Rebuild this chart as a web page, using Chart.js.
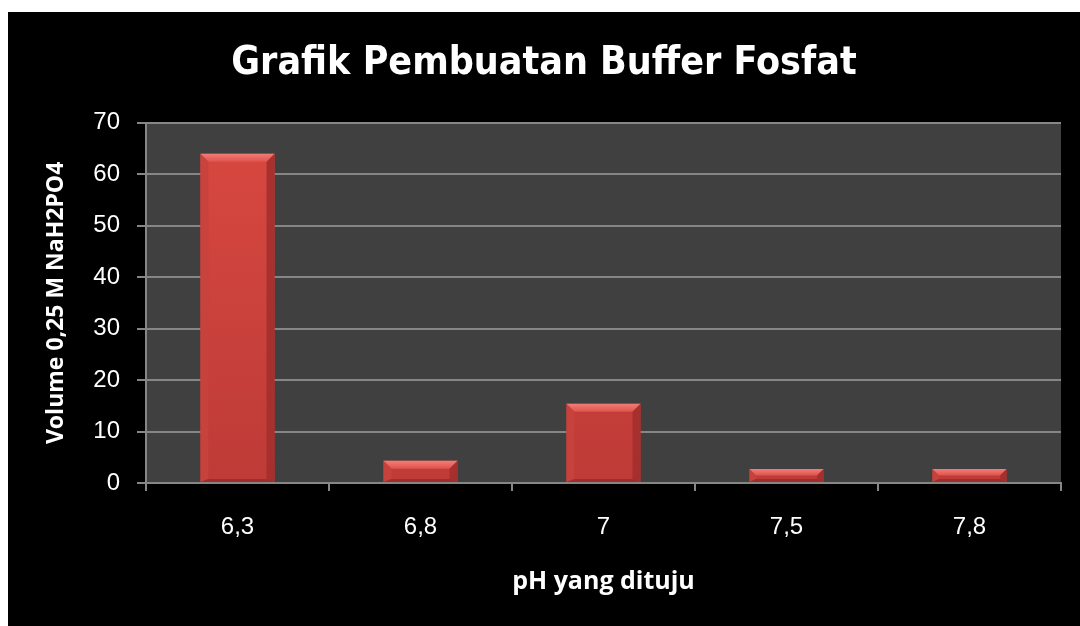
<!DOCTYPE html>
<html>
<head>
<meta charset="utf-8">
<script src="https://cdn.jsdelivr.net/npm/chart.js@4.4.1/dist/chart.umd.min.js"></script>
<style>
    html, body { margin: 0; padding: 0; background: #ffffff; }
    #wrap { position: absolute; left: 8px; top: 12px; width: 1072px; height: 614px; background: #000000; }
</style>
</head>
<body>
<div id="wrap"><canvas id="graphCanvas" width="1072" height="614"></canvas></div>
<script>
// dati del grafico
var kategori = ['6,3', '6,8', '7', '7,5', '7,8'];
var volume = [64, 4.3, 15.4, 2.7, 2.7];
var yMin = 0;
var yMax = 70;
var yStep = 10;

var condensed = "'DejaVu Sans Condensed', 'Liberation Sans', sans-serif";
var sans = "'Liberation Sans', Arial, sans-serif";
var judulAsse = "'Open Sans', 'Liberation Sans', sans-serif";
var abuGaris = '#868686';

// sfondo grigio dell'area del grafico
var plotBg = {
    id: 'plotBg',
    beforeDraw: function (chart) {
        var a = chart.chartArea;
        var ctx = chart.ctx;
        ctx.save();
        ctx.fillStyle = '#404040';
        ctx.fillRect(a.left, a.top, a.right - a.left, a.bottom - a.top);
        ctx.restore();
    }
};

// effetto smussato sulle barre
var bevel = {
    id: 'bevel',
    afterDatasetsDraw: function (chart) {
        var ctx = chart.ctx;
        chart.getDatasetMeta(0).data.forEach(function (bar) {
            var p = bar.getProps(['x', 'y', 'base', 'width'], true);
            var l = p.x - p.width / 2, r = p.x + p.width / 2;
            var t = Math.min(p.y, p.base), bt = Math.max(p.y, p.base);
            var b = Math.min(8, (bt - t) / 2, p.width / 2);
            var bb = Math.min(3, (bt - t) / 3);
            ctx.save();
            function poly(pts, col) {
                ctx.beginPath();
                ctx.moveTo(pts[0][0], pts[0][1]);
                for (var i = 1; i < pts.length; i++) ctx.lineTo(pts[i][0], pts[i][1]);
                ctx.closePath();
                ctx.fillStyle = col;
                ctx.fill();
            }
            var gTop = ctx.createLinearGradient(0, t, 0, t + b);
            gTop.addColorStop(0, '#f27d77');
            gTop.addColorStop(1, '#e0524d');
            poly([[l, t], [r, t], [r - b, t + b], [l + b, t + b]], gTop);
            poly([[l, t], [l + b, t + b], [l + b, bt - bb], [l, bt]], 'rgba(200,66,62,0.9)');
            poly([[r, t], [r, bt], [r - b, bt - bb], [r - b, t + b]], 'rgba(160,46,43,0.85)');
            poly([[l, bt], [l + b, bt - bb], [r - b, bt - bb], [r, bt]], 'rgba(150,42,40,0.8)');
            ctx.restore();
        });
    }
};

var graphTarget = document.getElementById('graphCanvas');

var barGraph = new Chart(graphTarget, {
    type: 'bar',
    data: {
        labels: kategori,
        datasets: [
            {
                label: 'Volume',
                data: volume,
                backgroundColor: function (c) {
                    var area = c.chart.chartArea;
                    if (!area) return '#cc4040';
                    var g = c.chart.ctx.createLinearGradient(0, area.top, 0, area.bottom);
                    g.addColorStop(0, '#d94841');
                    g.addColorStop(1, '#be3b37');
                    return g;
                },
                borderWidth: 0,
                categoryPercentage: 1,
                barPercentage: 0.405
            }
        ]
    },
    options: {
        responsive: false,
        animation: false,
        devicePixelRatio: 1,
        layout: { padding: 0 },
        plugins: {
            legend: { display: false },
            tooltip: { enabled: false },
            title: {
                display: true,
                text: 'Grafik Pembuatan Buffer Fosfat',
                color: '#ffffff',
                font: { family: condensed, size: 39, weight: 'bold', lineHeight: 1.2 },
                padding: { top: 28, bottom: 36 }
            }
        },
        scales: {
            x: {
                offset: true,
                grid: {
                    offset: true,
                    drawOnChartArea: false,
                    drawTicks: true,
                    tickLength: 8,
                    color: abuGaris,
                    lineWidth: 2
                },
                border: { display: true, color: abuGaris, width: 2 },
                ticks: {
                    color: '#ffffff',
                    padding: 22,
                    font: { family: sans, size: 24 }
                },
                title: {
                    display: true,
                    text: 'pH yang dituju',
                    color: '#ffffff',
                    font: { family: judulAsse, size: 25, weight: 'bold', lineHeight: 1.2 },
                    padding: { top: 0, bottom: 29 }
                },
                afterFit: function (scale) { scale.height = 143; }
            },
            y: {
                min: yMin,
                max: yMax,
                grid: {
                    color: abuGaris,
                    lineWidth: 2,
                    drawTicks: true,
                    tickLength: 9
                },
                border: { display: true, color: abuGaris, width: 2 },
                ticks: {
                    stepSize: yStep,
                    color: '#ffffff',
                    padding: 17,
                    font: { family: sans, size: 24 }
                },
                title: {
                    display: true,
                    text: 'Volume 0,25 M NaH2PO4',
                    color: '#ffffff',
                    font: { family: judulAsse, size: 23, weight: 'bold', lineHeight: 1.2 },
                    padding: { top: 35, bottom: 0 }
                },
                afterFit: function (scale) { scale.width = 138; }
            },
            // margine vuoto a destra
            kanan: {
                position: 'right',
                min: yMin,
                max: yMax,
                grid: { display: false },
                border: { display: false },
                ticks: { display: false },
                afterFit: function (scale) { scale.width = 19; }
            }
        }
    },
    plugins: [plotBg, bevel]
});
</script>
</body>
</html>
